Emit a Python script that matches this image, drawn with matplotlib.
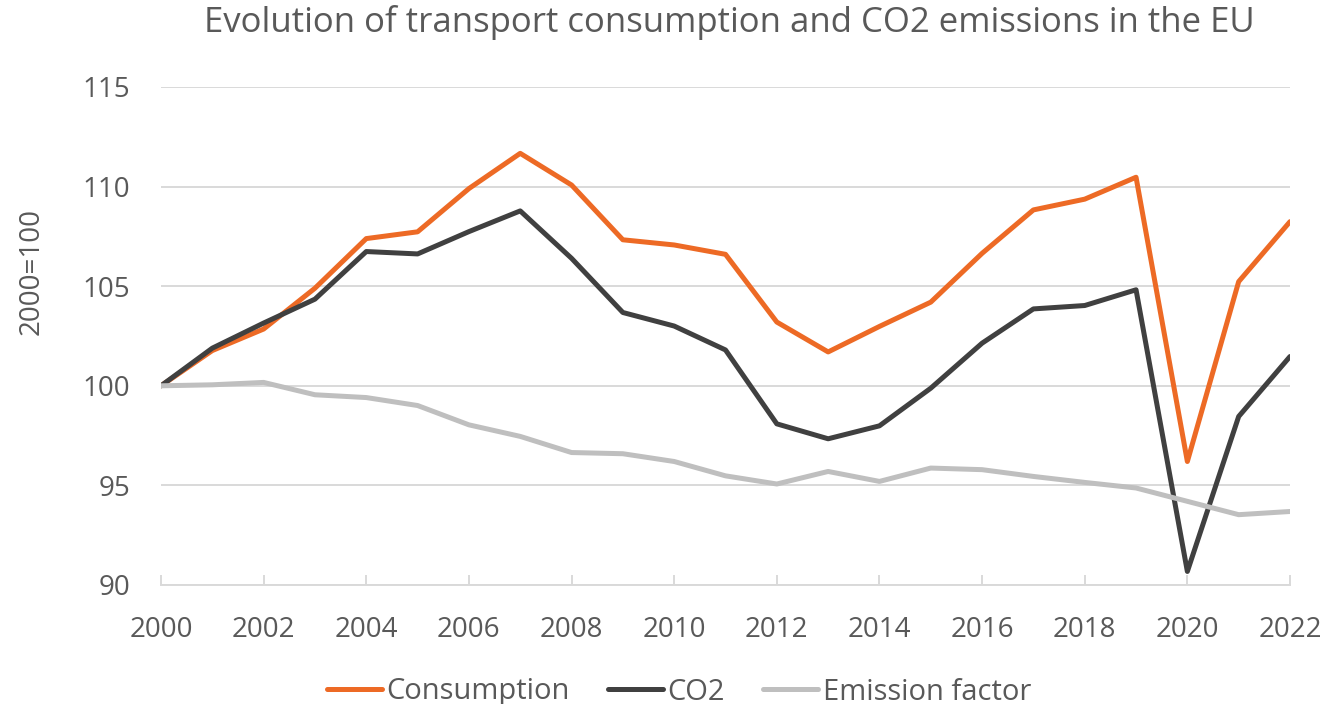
import matplotlib
matplotlib.use("Agg")
import matplotlib.pyplot as plt

years = list(range(2000, 2023))
consumption = [100.0, 101.77, 102.85, 104.9, 107.39, 107.73, 109.9, 111.67, 110.08,
               107.33, 107.07, 106.6, 103.2, 101.7, 102.98, 104.2, 106.65, 108.83,
               109.37, 110.47, 96.2, 105.23, 108.24]
co2 = [100.0, 101.89, 103.15, 104.35, 106.74, 106.62, 107.74, 108.78, 106.4,
       103.68, 103.0, 101.8, 98.09, 97.34, 97.99, 99.88, 102.14, 103.86,
       104.03, 104.82, 90.68, 98.46, 101.47]
emission_factor = [100.0, 100.05, 100.17, 99.55, 99.41, 99.01, 98.04, 97.46, 96.65,
                   96.59, 96.2, 95.48, 95.07, 95.70, 95.2, 95.87, 95.79, 95.45,
                   95.15, 94.87, 94.2, 93.53, 93.69]
series_names = ["Consumption", "CO2", "Emission factor"]
series_colors = ["#ED6A25", "#404040", "#BFBFBF"]
yticks = [90, 95, 100, 105, 110, 115]
xticks = list(range(2000, 2023, 2))
title = "Evolution of transport consumption and CO2 emissions in the EU"
ylabel = "2000=100"

plt.rcParams['font.family'] = ['Open Sans', 'DejaVu Sans']
txt = "#595959"

fig = plt.figure(figsize=(13.39, 7.04), dpi=100)
ax = fig.add_axes([161/1339, 1-585/704, (1290-161)/1339, (585-87)/704])

for vals, name, col in zip([consumption, co2, emission_factor], series_names, series_colors):
    ax.plot(years, vals, color=col, lw=3.6, label=name,
            solid_joinstyle='round', solid_capstyle='round', zorder=3)

ax.set_xlim(2000, 2022)
ax.set_ylim(90, 115)
ax.set_yticks(yticks)
ax.set_xticks(xticks)
ax.set_xticklabels([str(x) for x in xticks])
ax.grid(axis='y', color='#D9D9D9', lw=1.4, zorder=0)
for s in ['top', 'right', 'left']:
    ax.spines[s].set_visible(False)
ax.spines['bottom'].set_color('#D9D9D9')
ax.spines['bottom'].set_linewidth(1.4)
ax.spines['bottom'].set_zorder(1)
ax.tick_params(axis='y', length=0, pad=22, labelsize=20, labelcolor=txt)
ax.tick_params(axis='x', direction='in', length=7, width=1.4, color='#D9D9D9',
               pad=22, labelsize=20, labelcolor=txt)

fig.text(729/1339, 1-22/704, title, ha='center', va='center', fontsize=25, color=txt)
fig.text(32/1339, 1-271/704, ylabel, ha='center', va='center', rotation=90,
         fontsize=20, color=txt)

leg = fig.legend(loc='center', bbox_to_anchor=(679/1339, 1-692/704), ncol=3,
                 frameon=False, fontsize=21, handlelength=1.9, handletextpad=0.15,
                 columnspacing=1.3, borderpad=0, borderaxespad=0)
for t in leg.get_texts():
    t.set_color(txt)

fig.savefig("out.png", dpi=100)
